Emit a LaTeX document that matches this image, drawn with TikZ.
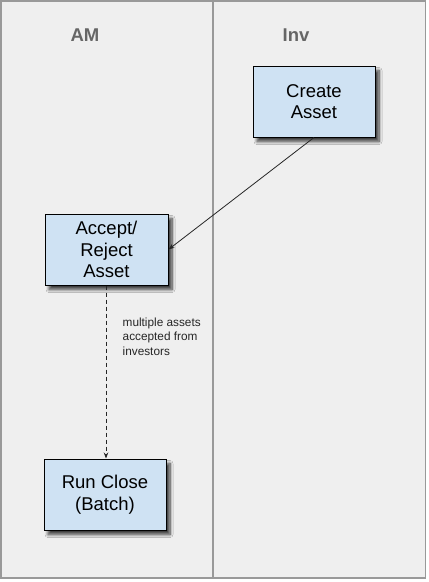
\documentclass[tikz,border=0pt]{standalone}
\usepackage{fontspec}
\setmainfont{Liberation Sans}
\usetikzlibrary{arrows.meta,shadows.blur}
\definecolor{lanebg}{HTML}{EFEFEF}
\definecolor{laneline}{HTML}{999999}
\definecolor{boxfill}{HTML}{CFE2F3}
\definecolor{titlegray}{HTML}{666666}
\tikzset{
  stepbox/.style={draw=black, line width=1pt, fill=boxfill, minimum width=122pt, minimum height=71pt,
    align=center, font=\fontsize{18.5}{21.5}\selectfont, inner sep=0pt,
    blur shadow={shadow xshift=4pt, shadow yshift=-4.5pt, shadow blur steps=8, shadow blur radius=3pt, shadow opacity=75}},
  lanetitle/.style={font=\bfseries\fontsize{18.5}{21}\selectfont, text=titlegray},
  flow/.style={draw=black!85, line width=0.8pt, -{Stealth[length=6pt,width=4.5pt]}},
  note/.style={font=\fontsize{11.8}{14.5}\selectfont, align=left, text=black!85, anchor=north west, inner sep=0pt}
}
\begin{document}
\begin{tikzpicture}[x=1pt,y=-1pt]
\useasboundingbox (0,0) rectangle (429,582);
\fill[white] (0,0) rectangle (429,582);
\draw[laneline, line width=1.2pt, fill=lanebg] (1,1) rectangle (425.5,578);
\draw[laneline, line width=1.2pt] (213,1) -- (213,578);
\node[lanetitle] (am) at (85,35) {AM};
\node[lanetitle] (inv) at (296,35) {Inv};
\node[stepbox] (create) at (314,101.5) {Create\\Asset};
\node[stepbox, minimum width=123pt] (accept) at (106.5,249.5) {Accept/\\Reject\\Asset};
\node[stepbox] (run) at (105,494.5) {Run Close\\(Batch)};
\draw[flow] (create.south) -- (accept.east);
\draw[flow, dash pattern=on 4pt off 3pt] (accept.south -| 106,0) -- (run.north -| 106,0);
\node[note] (lbl) at (122.5,317.5) {multiple assets\\accepted from\\investors};
\end{tikzpicture}
\end{document}
